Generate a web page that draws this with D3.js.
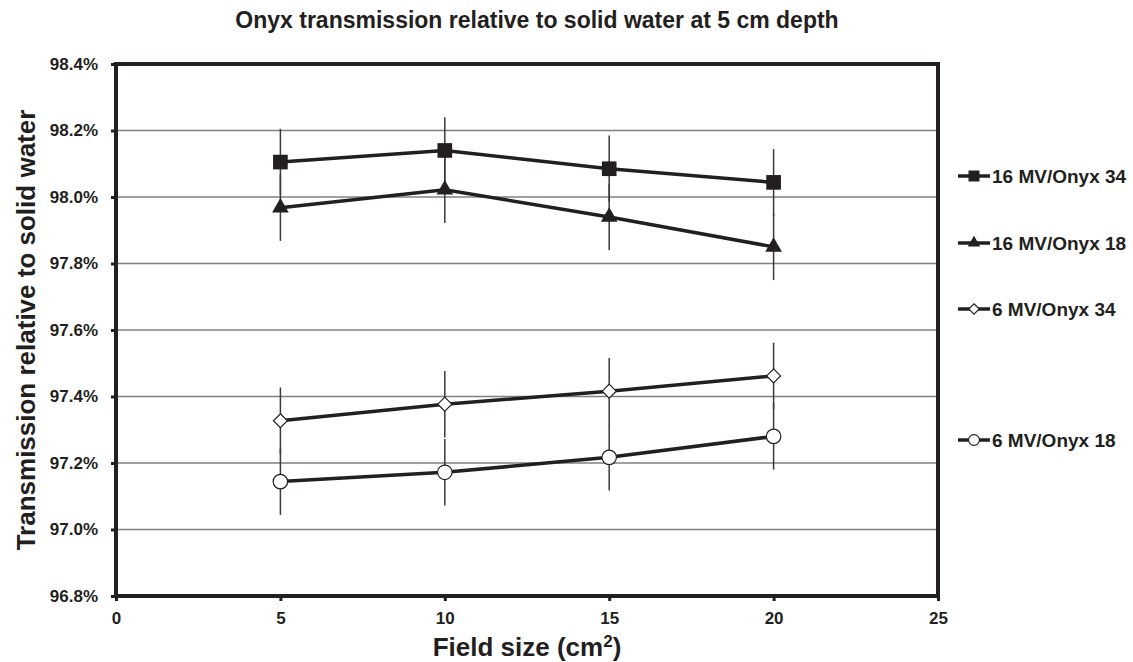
<!DOCTYPE html>
<html>
<head>
<meta charset="utf-8">
<script src="https://cdn.jsdelivr.net/npm/d3@7"></script>
<style>
  body { margin: 0; background: #fff; }
  text { font-family: Arial, "Liberation Sans", Helvetica, sans-serif; font-weight: bold; fill: #231f20; }
</style>
</head>
<body>
<div id="chart"></div>
<script>
// Chart data
const fieldSizes = [5, 10, 15, 20];
const seriesNames = ['16 MV/Onyx 34', '16 MV/Onyx 18', '6 MV/Onyx 34', '6 MV/Onyx 18'];
const mv16Onyx34 = [98.105, 98.14, 98.085, 98.044];
const mv16Onyx18 = [97.968, 98.022, 97.94, 97.85];
const mv6Onyx34 = [97.327, 97.377, 97.416, 97.462];
const mv6Onyx18 = [97.144, 97.172, 97.217, 97.28];
const errorBar = 0.1;
const xTicks = [0, 5, 10, 15, 20, 25];
const yTicks = [96.8, 97.0, 97.2, 97.4, 97.6, 97.8, 98.0, 98.2, 98.4];

const width = 1133, height = 662;
const margin = { left: 116, right: 195, top: 64, bottom: 66 };
const ink = '#231f20';

const svg = d3.select('#chart').append('svg')
    .attr('width', width)
    .attr('height', height);

const x = d3.scaleLinear().domain([0, 25]).range([margin.left, width - margin.right]);
const y = d3.scaleLinear().domain([96.8, 98.4]).range([height - margin.bottom, margin.top]);

// Gridlines
svg.append('g')
    .selectAll('line')
    .data(yTicks.slice(1, -1))
    .enter()
    .append('line')
    .attr('x1', x(0)).attr('x2', x(25))
    .attr('y1', d => y(d)).attr('y2', d => y(d))
    .attr('stroke', '#808080')
    .attr('stroke-width', 1.5);

// Axes
const yAxis = svg.append('g')
    .attr('transform', `translate(${x(0)},0)`)
    .call(d3.axisLeft(y).tickValues(yTicks).tickSize(5).tickPadding(13)
        .tickFormat(d => d.toFixed(1) + '%'));
const xAxis = svg.append('g')
    .attr('transform', `translate(0,${y(96.8)})`)
    .call(d3.axisBottom(x).tickValues(xTicks).tickSize(5).tickPadding(11));

[yAxis, xAxis].forEach(a => {
    a.select('.domain').remove();
    a.selectAll('.tick line').attr('stroke', ink).attr('stroke-width', 3);
    a.selectAll('.tick text').style('font-size', '17px').attr('fill', ink);
});

// Plot border
svg.append('rect')
    .attr('x', x(0)).attr('y', y(98.4))
    .attr('width', x(25) - x(0))
    .attr('height', y(96.8) - y(98.4))
    .attr('fill', 'none')
    .attr('stroke', ink)
    .attr('stroke-width', 4);

const series = [
    { name: seriesNames[0], values: mv16Onyx34, shape: 'square', fill: ink },
    { name: seriesNames[1], values: mv16Onyx18, shape: 'triangle', fill: ink },
    { name: seriesNames[2], values: mv6Onyx34, shape: 'diamond', fill: '#fff' },
    { name: seriesNames[3], values: mv6Onyx18, shape: 'circle', fill: '#fff' }
];

function markerPath(shape) {
    if (shape === 'square') return d3.symbol(d3.symbolSquare, 215)();
    if (shape === 'triangle') return d3.symbol(d3.symbolTriangle, 120)();
    if (shape === 'diamond') return 'M0,-7L7,0L0,7L-7,0Z';
    return d3.symbol(d3.symbolCircle, 165)();
}

// Error bars
series.forEach(s => {
    svg.append('g')
        .selectAll('line')
        .data(s.values)
        .enter()
        .append('line')
        .attr('x1', (d, i) => x(fieldSizes[i])).attr('x2', (d, i) => x(fieldSizes[i]))
        .attr('y1', d => y(d - errorBar)).attr('y2', d => y(d + errorBar))
        .attr('stroke', '#3a3a3a')
        .attr('stroke-width', 1.5);
});

// Lines and markers
const line = d3.line()
    .x((d, i) => x(fieldSizes[i]))
    .y(d => y(d));

series.forEach(s => {
    svg.append('path')
        .datum(s.values)
        .attr('d', line)
        .attr('fill', 'none')
        .attr('stroke', ink)
        .attr('stroke-width', 3.5);

    svg.append('g')
        .selectAll('path')
        .data(s.values)
        .enter()
        .append('path')
        .attr('d', markerPath(s.shape))
        .attr('transform', (d, i) => `translate(${x(fieldSizes[i])},${y(d)})`)
        .attr('fill', s.fill)
        .attr('stroke', ink)
        .attr('stroke-width', s.fill === ink ? 0 : 1.2);
});

// Legend
const legendY = [176, 243, 309, 440];
series.forEach((s, i) => {
    const g = svg.append('g').attr('transform', `translate(958,${legendY[i]})`);
    g.append('line')
        .attr('x1', 0).attr('x2', 32)
        .attr('stroke', ink).attr('stroke-width', 3.5);
    g.append('path')
        .attr('d', markerPath(s.shape))
        .attr('transform', `translate(16,0) scale(0.75)`)
        .attr('fill', s.fill)
        .attr('stroke', ink)
        .attr('stroke-width', s.fill === ink ? 0 : 1.5);
    g.append('text')
        .attr('x', 34)
        .attr('dy', '0.35em')
        .style('font-size', '19px')
        .text(s.name);
});

// Titles
svg.append('text')
    .attr('x', 537).attr('y', 28)
    .attr('text-anchor', 'middle')
    .style('font-size', '23px')
    .text('Onyx transmission relative to solid water at 5 cm depth');

svg.append('text')
    .attr('transform', `translate(35,${(y(96.8) + y(98.4)) / 2}) rotate(-90)`)
    .attr('text-anchor', 'middle')
    .style('font-size', '26px')
    .text('Transmission relative to solid water');

const xt = svg.append('text')
    .attr('x', (x(0) + x(25)) / 2).attr('y', 656)
    .attr('text-anchor', 'middle')
    .style('font-size', '26px');
xt.append('tspan').text('Field size (cm');
xt.append('tspan').attr('dy', -9).style('font-size', '17px').text('2');
xt.append('tspan').attr('dy', 9).text(')');
</script>
</body>
</html>
